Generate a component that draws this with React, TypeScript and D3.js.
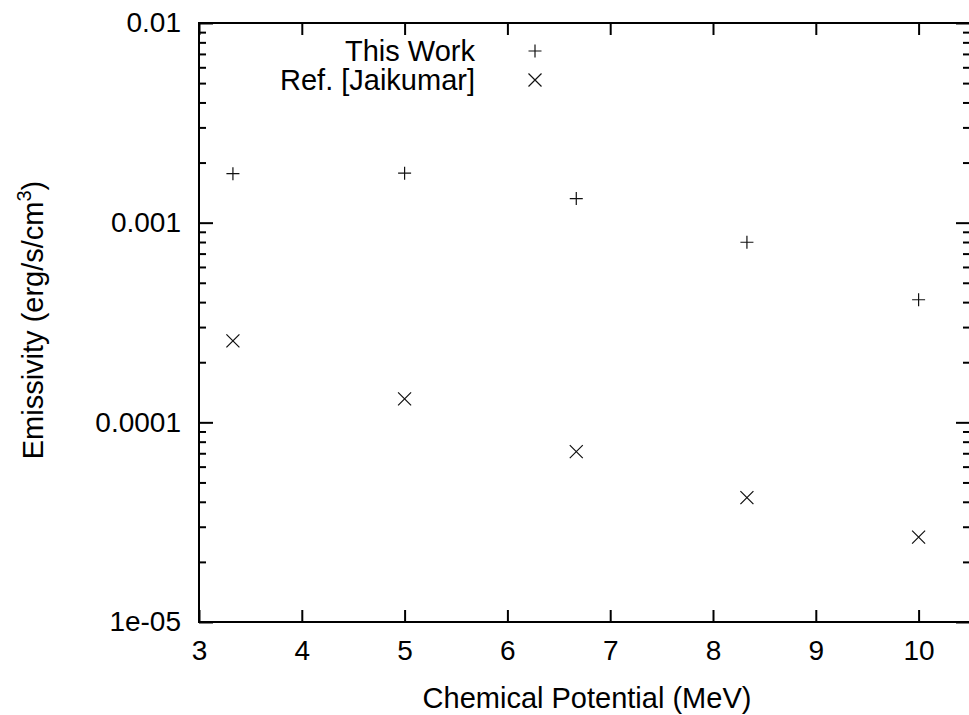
import { useEffect, useRef } from "react";
import * as d3 from "d3";

// chemical potential (MeV) and emissivity (erg/s/cm^3)
const mu = [3.33, 5.0, 6.67, 8.33, 10.0];
const thisWork = [0.00176, 0.00177, 0.00132, 0.000798, 0.000411];
const jaikumar = [0.000256, 0.000131, 0.0000713, 0.000042, 0.0000266];

const xTicks = [3, 4, 5, 6, 7, 8, 9, 10];
const yTicks = [0.01, 0.001, 0.0001, 0.00001];
const yTickLabels = ["0.01", "0.001", "0.0001", "1e-05"];
const legendLabels = ["This Work", "Ref. [Jaikumar]"];

const W = 969;
const H = 715;
const FONT = "'Liberation Sans', Arial, Helvetica, sans-serif";
const FS = 28; // tick labels
const FS_T = 29; // titles, legend

const plus = (cx: number, cy: number, r = 6.5) =>
  `M${cx - r},${cy}h${2 * r}M${cx},${cy - r}v${2 * r}`;
const cross = (cx: number, cy: number, r = 6.5) =>
  `M${cx - r},${cy - r}l${2 * r},${2 * r}M${cx - r},${cy + r}l${2 * r},${-2 * r}`;

export default function App() {
  const ref = useRef<SVGSVGElement>(null);

  useEffect(() => {
    const svg = d3.select(ref.current);
    svg.selectAll("*").remove();

    const x = d3.scaleLinear().domain([3, 10.5]).range([199, 970]);
    const y = d3.scaleLog().domain([1e-5, 1e-2]).range([622, 23]);

    // minor ticks between decades
    const minor: number[] = [];
    [1e-5, 1e-4, 1e-3].forEach((d) => {
      for (let k = 2; k <= 9; k++) minor.push(d * k);
    });

    const styleAxis = (g: any) => {
      g.select(".domain").remove();
      g.selectAll("line").attr("stroke", "#000").attr("stroke-width", 2);
      g.attr("font-size", FS).attr("font-family", FONT);
      g.selectAll("text").attr("fill", "#000");
    };

    // bottom
    svg.append("g")
      .attr("transform", "translate(0,622)")
      .call(
        d3.axisBottom(x).tickValues(xTicks).tickSize(-12).tickPadding(18)
          .tickFormat(d3.format("d")) as any
      )
      .call(styleAxis);
    // top
    svg.append("g")
      .attr("transform", "translate(0,23)")
      .call(d3.axisTop(x).tickValues(xTicks).tickSize(-12).tickFormat(() => "") as any)
      .call(styleAxis);
    // left
    svg.append("g")
      .attr("transform", "translate(199,0)")
      .call(
        d3.axisLeft(y).tickValues(yTicks).tickSize(-14).tickPadding(18)
          .tickFormat((_d, i) => yTickLabels[i]) as any
      )
      .call(styleAxis);
    svg.append("g")
      .attr("transform", "translate(199,0)")
      .call(d3.axisLeft(y).tickValues(minor).tickSize(-7).tickFormat(() => "") as any)
      .call(styleAxis);
    // right
    svg.append("g")
      .attr("transform", "translate(970,0)")
      .call(d3.axisRight(y).tickValues(yTicks).tickSize(-14).tickFormat(() => "") as any)
      .call(styleAxis);
    svg.append("g")
      .attr("transform", "translate(970,0)")
      .call(d3.axisRight(y).tickValues(minor).tickSize(-7).tickFormat(() => "") as any)
      .call(styleAxis);

    // border
    svg.append("rect")
      .attr("x", 199).attr("y", 23)
      .attr("width", 970 - 199).attr("height", 622 - 23)
      .attr("fill", "none").attr("stroke", "#000").attr("stroke-width", 2);

    // points
    const pts = svg.append("g").attr("fill", "none").attr("stroke", "#111").attr("stroke-width", 1.2);
    pts.selectAll("path.tw")
      .data(mu.map((m, i) => [m, thisWork[i]]))
      .join("path").attr("class", "tw")
      .attr("d", (d) => plus(x(d[0]), y(d[1])));
    pts.selectAll("path.jk")
      .data(mu.map((m, i) => [m, jaikumar[i]]))
      .join("path").attr("class", "jk")
      .attr("d", (d) => cross(x(d[0]), y(d[1])));

    // legend
    const leg = svg.append("g").attr("font-family", FONT).attr("font-size", FS_T);
    const legRows = [61, 90];
    legendLabels.forEach((lab, i) => {
      leg.append("text")
        .attr("x", 475).attr("y", legRows[i])
        .attr("text-anchor", "end").attr("fill", "#000")
        .text(lab);
      const mk = i === 0 ? plus : cross;
      leg.append("path")
        .attr("d", mk(535, legRows[i] - 10))
        .attr("fill", "none").attr("stroke", "#111").attr("stroke-width", 1.2);
    });

    // axis titles
    svg.append("text")
      .attr("x", 587).attr("y", 708)
      .attr("text-anchor", "middle")
      .attr("font-family", FONT).attr("font-size", FS_T)
      .text("Chemical Potential (MeV)");

    const yl = svg.append("text")
      .attr("transform", "translate(43,320) rotate(-90)")
      .attr("text-anchor", "middle")
      .attr("font-family", FONT).attr("font-size", FS_T);
    yl.append("tspan").text("Emissivity (erg/s/cm");
    yl.append("tspan").attr("font-size", 20).attr("dy", -12).text("3");
    yl.append("tspan").attr("dy", 12).text(")");
  }, []);

  return (
    <svg
      ref={ref}
      width={W}
      height={H}
      style={{ position: "absolute", left: 0, top: 0, background: "#fff" }}
    />
  );
}
